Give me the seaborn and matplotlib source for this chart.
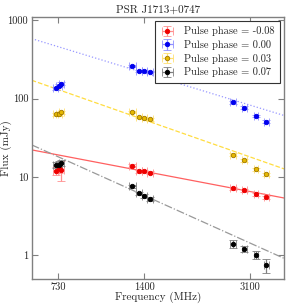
import numpy as np
import pandas as pd
import matplotlib
matplotlib.use("Agg")
import matplotlib.pyplot as plt
import seaborn as sns

# sub-band centre frequencies (MHz) and half widths
freq = [718, 736, 750, 1280, 1340, 1400, 1460, 2720, 2970, 3240, 3500]
freq_err = [15, 15, 15, 30, 30, 30, 30, 60, 60, 60, 60]

phases = ["-0.08", "0.00", "0.03", "0.07"]

flux_m008 = [12.0, 13.0, 12.4, 13.9, 11.8, 11.9, 11.4, 7.16, 6.76, 6.01, 5.51]
flux_000 = [136, 147, 155, 262, 226, 229, 222, 89.8, 76.6, 59.6, 50.9]
flux_003 = [63.5, 64.0, 67.5, 68.2, 58.4, 57.2, 54.6, 19.4, 16.4, 12.6, 10.9]
flux_007 = [14.3, 14.1, 15.2, 7.6, 6.19, 5.79, 5.25, 1.41, 1.22, 1.02, 0.753]

err_m008 = [1.4, 1.8, 3.5, 0.6, 0.5, 0.5, 0.5, 0.3, 0.3, 0.3, 0.3]
err_000 = [6, 6, 6, 8, 6, 6, 6, 3, 3, 2, 2]
err_003 = [3, 3, 3, 2, 2, 2, 2, 0.6, 0.6, 0.5, 0.5]
err_007 = [1.2, 1.8, 1.5, 0.4, 0.3, 0.3, 0.3, 0.17, 0.12, 0.13, 0.16]

# power-law fits: flux at 1 GHz (mJy) and spectral index
fit_amp = [15.2, 318, 85.3, 10.5]
fit_index = [-0.745, -1.19, -1.372, -1.757]

fluxes = [flux_m008, flux_000, flux_003, flux_007]
errors = [err_m008, err_000, err_003, err_007]

point_colors = ["#ee0000", "#0000ee", "#e6b800", "#000000"]
edge_colors = ["#ee0000", "#0000ee", "#a07800", "#000000"]
err_colors = ["#ff9090", "#9090ff", "#ffe070", "#808080"]
line_colors = ["#ff6060", "#9898ff", "#ffdd40", "#999999"]
line_styles = ["-", ":", "--", "-."]

sns.set_style("ticks")
plt.rcParams["font.family"] = ["cmr10", "DejaVu Serif"]
plt.rcParams["axes.formatter.use_mathtext"] = True
plt.rcParams["font.size"] = 7.5

fig = plt.figure(figsize=(2.99, 3.05), dpi=100)
ax = fig.add_axes([0.106, 0.085, 0.844, 0.859])

xfit = np.geomspace(600, 4000, 50)
for i in range(4):
    fit = pd.DataFrame({"f": xfit, "s": fit_amp[i] * (xfit / 1000.0) ** fit_index[i]})
    sns.lineplot(data=fit, x="f", y="s", ax=ax, color=line_colors[i],
                 linestyle=line_styles[i], linewidth=0.9, legend=False)

for i in range(4):
    ax.errorbar(freq, fluxes[i], yerr=errors[i], xerr=freq_err, fmt="o",
                color=point_colors[i], mec=edge_colors[i], mew=0.6, ms=3.2,
                ecolor=err_colors[i], elinewidth=0.9, capsize=3, capthick=0.9,
                label="Pulse phase = " + phases[i], zorder=3)

ax.set_xscale("log")
ax.set_yscale("log")
ax.set_xlim(600, 4000)
ax.set_ylim(0.5, 1100)
ax.set_xticks([730, 1400, 3100], ["730", "1400", "3100"])
ax.set_yticks([1, 10, 100, 1000], ["1", "10", "100", "1000"])
ax.minorticks_off()
ax.tick_params(direction="in", top=True, right=True, length=4, width=0.8,
               color="#808080", labelsize=7.5, pad=2.5)
for s in ax.spines.values():
    s.set_color("#808080")
    s.set_linewidth(1.0)

ax.set_title("PSR J1713+0747", fontsize=8, pad=3)
ax.set_xlabel("Frequency (MHz)", fontsize=8, labelpad=0)
ax.set_ylabel("Flux (mJy)", fontsize=8)
ax.yaxis.set_label_coords(-0.08, 0.5)

leg = ax.legend(loc="upper right", fontsize=7.5, frameon=True, fancybox=False,
                edgecolor="#333333", framealpha=1, borderaxespad=0.4,
                handlelength=1.4, handletextpad=0.9, labelspacing=0.35,
                borderpad=0.5)
leg.get_frame().set_linewidth(0.8)

fig.savefig("out.png", dpi=100)
